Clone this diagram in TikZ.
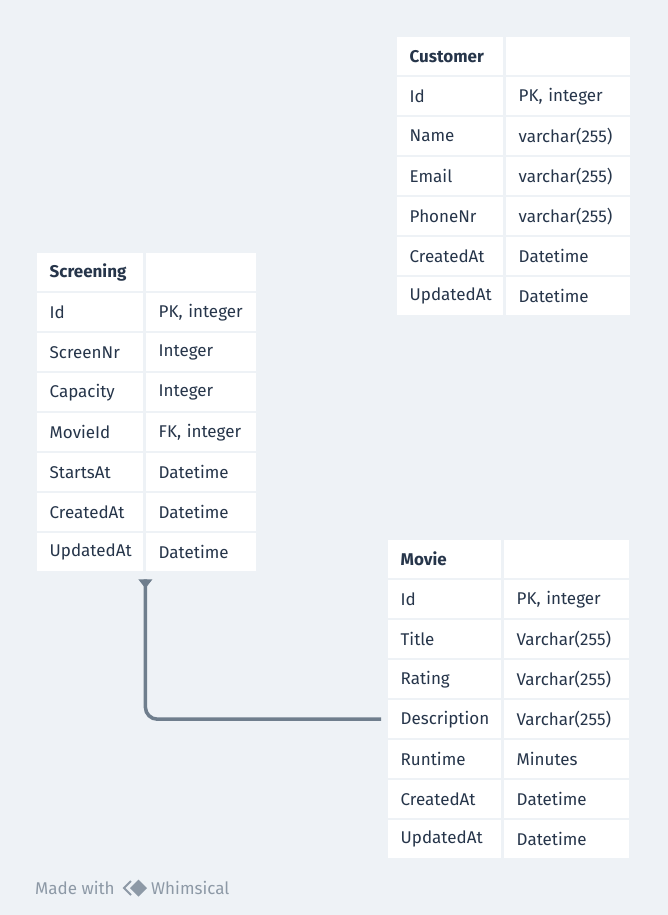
\documentclass[tikz,border=0pt]{standalone}
\usepackage{fontspec}
\setmainfont{Fira Sans}
\definecolor{bgc}{HTML}{EEF2F6}
\definecolor{txt}{HTML}{26354A}
\definecolor{linec}{HTML}{6F7E8D}
\definecolor{foot}{HTML}{8D99A6}
\tikzset{
  cell/.style={fill=white, draw=none, anchor=north west, inner ysep=0pt, inner xsep=12.5pt,
    minimum height=38pt, align=left, text=txt, font=\fontsize{17}{20}\selectfont},
  conn/.style={draw=linec, line width=3.5pt, rounded corners=12pt},
  foottext/.style={text=foot, font=\fontsize{17}{20}\selectfont, inner sep=0pt, anchor=west},
}
% #1 name, #2 x0, #3 xa, #4 xb, #5 x1, #6 y0, #7 rows
\newcommand{\ertable}[7]{%
  \foreach [count=\i from 0] \fa/\fb in {#7} {
    \pgfmathsetmacro{\wa}{#3-#2}
    \pgfmathsetmacro{\wb}{#5-#4}
    \pgfmathsetmacro{\yy}{#6+40*\i}
    \node[cell, minimum width=\wa pt, text width=\wa pt-25pt] (#1-\i-a) at (#2,\yy) {\fa};
    \node[cell, minimum width=\wb pt, text width=\wb pt-25pt] (#1-\i-b) at (#4,\yy) {\fb};
  }%
}
\begin{document}
\begin{tikzpicture}[x=1pt,y=-1pt]
\fill[bgc] (0,0) rectangle (668,915);
\useasboundingbox (0,0) rectangle (668,915);

\ertable{cus}{397}{503}{506}{630}{37}{{\textbf{Customer}}/{},Id/{PK, integer},Name/varchar(255),Email/varchar(255),PhoneNr/varchar(255),CreatedAt/Datetime,UpdatedAt/Datetime}

\ertable{scr}{37}{143}{146}{256}{253}{{\textbf{Screening}}/{},Id/{PK, integer},ScreenNr/Integer,Capacity/Integer,MovieId/{FK, integer},StartsAt/Datetime,CreatedAt/Datetime,UpdatedAt/Datetime}

\ertable{mov}{388}{501}{504}{629}{540}{{\textbf{Movie}}/{},Id/{PK, integer},Title/Varchar(255),Rating/Varchar(255),Description/Varchar(255),Runtime/Minutes,CreatedAt/Datetime,UpdatedAt/Datetime}

% connector
\coordinate (cstart) at ([xshift=2pt,yshift=-8pt]scr-7-a.south east);
\coordinate (cend) at ([xshift=-7pt]mov-4-a.west);
\draw[conn] (cstart) |- (cend);
\fill[linec] ([xshift=-7pt]cstart) -- ([xshift=7pt]cstart) -- ([xshift=1.5pt,yshift=-7pt]cstart) -- ([xshift=-1.5pt,yshift=-7pt]cstart) -- cycle;

% footer
\node[foottext] (made) at (35,888) {Made with};
\draw[foot, line width=1.8pt, line join=miter] (131,881) -- (124,888) -- (131,895);
\fill[foot] (138.5,879.5) -- (147,888) -- (138.5,896.5) -- (130,888) -- cycle;
\node[foottext] (whim) at (151,888) {Whimsical};
\end{tikzpicture}
\end{document}
